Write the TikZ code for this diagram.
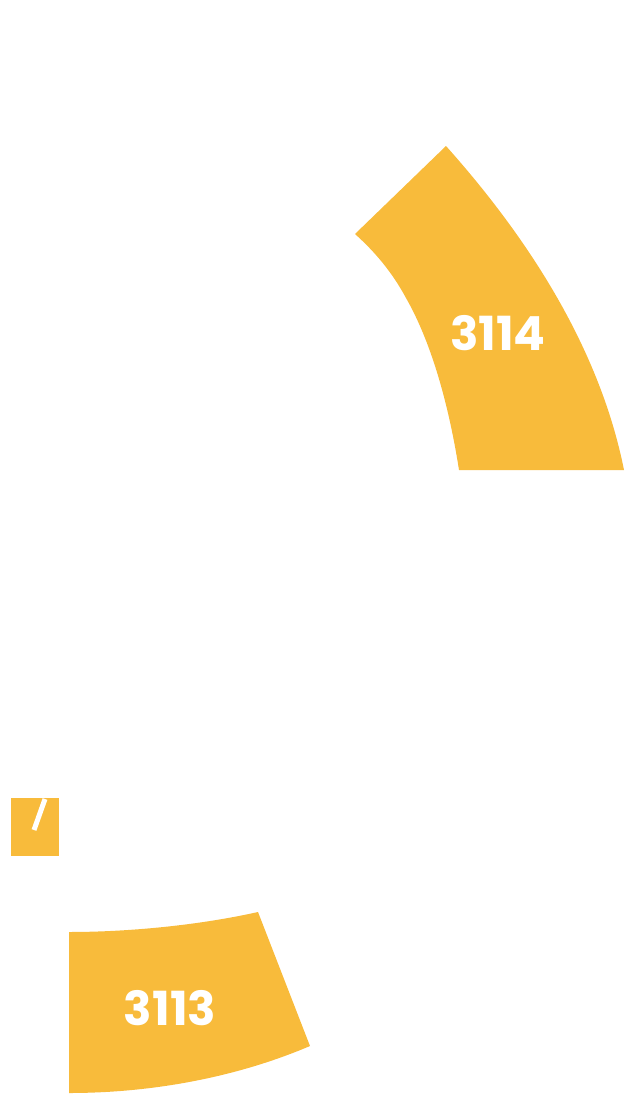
\documentclass[tikz,border=0pt]{standalone}
\usepackage{fontspec}
\setmainfont{Poppins}
\usepackage{xcolor}
\usetikzlibrary{positioning}
\definecolor{RoomFill}{HTML}{F8BB3B}
\definecolor{RoomText}{HTML}{FFFFFF}

\begin{document}
\begin{tikzpicture}[x=1pt,y=-1pt,font=\bfseries\fontsize{47}{47}\selectfont,text=RoomText]
 \useasboundingbox (0,0) rectangle (640,1105);
 \fill[RoomFill] (446,146) .. controls (530,240) and (600,350) .. (624,470) -- (459,470)
   .. controls (448,400) and (430,340) .. (406,298) .. controls (392,272) and (375,252) .. (355,234) -- cycle;
 \node (lab3114) at (498,333) {3114};
 \fill[RoomFill] (11,798) rectangle (59,856);
 \draw[RoomText,line width=5pt] (45,799) -- (34,830);
 \fill[RoomFill] (69,932) .. controls (130,932) and (200,925) .. (258,912) -- (310,1046)
   .. controls (235,1078) and (150,1093) .. (69,1093) -- cycle;
 \node (lab3113) at (170,1008) {3113};
\end{tikzpicture}
\end{document}
